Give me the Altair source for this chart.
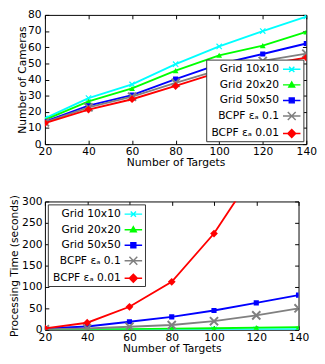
import altair as alt
import pandas as pd

targets = [20, 40, 60, 80, 100, 120, 140]
series_names = ["Grid 10x10", "Grid 20x20", "Grid 50x50", "BCPF εₐ 0.1", "BCPF εₐ 0.01"]
colors = ["#00ffff", "#00ff00", "#0000ff", "#808080", "#ff0000"]

cameras_grid10 = [16, 28.5, 37, 49.5, 60.5, 70, 79]
cameras_grid20 = [15, 26.5, 34.5, 45.5, 55, 61, 69.5]
cameras_grid50 = [14, 23.8, 30.4, 40.3, 49.6, 55.8, 62.3]
cameras_bcpf1 = [13.5, 22.8, 29.4, 38, 46, 51.5, 56]
cameras_bcpf01 = [13, 21.4, 27.8, 36, 44.6, 49, 53.6]

time_grid10 = [0.2, 0.3, 0.5, 0.7, 1.0, 1.2, 1.5]
time_grid20 = [0.5, 1, 1.5, 2.5, 3.5, 5, 6]
time_grid50 = [3, 7.5, 18.7, 30, 45, 63, 81]
time_bcpf1 = [1, 3, 7, 11, 20, 33.6, 50]
time_bcpf01 = [3, 16.4, 53.7, 112, 225, 375, 580]

cam_ticks = [0, 10, 20, 30, 40, 50, 60, 70, 80]
time_ticks = [0, 50, 100, 150, 200, 250, 300]

XPATH = "M-1,-1L1,1M-1,1L1,-1"
marker_shapes = [XPATH, "triangle-up", "square", XPATH, "diamond"]
marker_sizes = [30, 36, 28, 70, 64]
marker_filled = [False, True, True, False, True]
marker_strokes = [1.2, 1, 1, 2, 1]

legend_paths = [
    "M-1,0H1M-0.3,-0.3L0.3,0.3M-0.3,0.3L0.3,-0.3",
    "M-1,0H1M0,-0.33L0.33,0.25L-0.33,0.25Z",
    "M-1,0H1M-0.28,-0.28H0.28V0.28H-0.28Z",
    "M-1,0H1M-0.45,-0.45L0.45,0.45M-0.45,0.45L0.45,-0.45",
    "M-1,0H1M0,-0.45L0.45,0L0,0.45L-0.45,0Z",
]

FONT = "DejaVu Sans"


def make_panel(values_lists, ytitle, ydomain, yticks, width, height, legend_orient,
               ytitle_pad, ylabel_pad):
    df = pd.DataFrame({
        "targets": targets * len(series_names),
        "value": [v for vals in values_lists for v in vals],
        "series": [n for n in series_names for _ in targets],
    })
    xs = alt.Scale(domain=[20, 140], nice=False, zero=False)
    ys = alt.Scale(domain=ydomain, nice=False, zero=False)
    base = alt.Chart(df)

    x_main = alt.Axis(orient="bottom", values=targets, offset=-4, tickSize=4, domain=False,
                      grid=False, labelPadding=2, title="Number of Targets", titlePadding=0,
                      labelFlush=False)
    y_main = alt.Axis(orient="left", values=yticks, offset=-4, tickSize=4, domain=False,
                      grid=False, labelPadding=ylabel_pad, title=ytitle,
                      titlePadding=ytitle_pad, labelFlush=False)
    x_top = alt.Axis(orient="top", values=targets, offset=-4, tickSize=4, domain=False,
                     grid=False, labels=False, title=None)
    y_right = alt.Axis(orient="right", values=yticks, offset=-4, tickSize=4, domain=False,
                       grid=False, labels=False, title=None)

    layers = []
    for i, name in enumerate(series_names):
        sub = base.transform_filter(alt.datum.series == name)
        xa = x_main if i == 0 else None
        ya = y_main if i == 0 else None
        line = sub.mark_line(color=colors[i], strokeWidth=1.9, clip=True).encode(
            x=alt.X("targets:Q", scale=xs, axis=xa),
            y=alt.Y("value:Q", scale=ys, axis=ya),
        )
        pt = sub.mark_point(
            shape=marker_shapes[i], size=marker_sizes[i], filled=marker_filled[i],
            color=colors[i], strokeWidth=marker_strokes[i], opacity=1, clip=True,
        ).encode(
            x=alt.X("targets:Q", scale=xs, axis=None),
            y=alt.Y("value:Q", scale=ys, axis=None),
        )
        layers += [line, pt]

    leg = alt.Legend(
        title=None, orient=legend_orient, offset=3, padding=0,
        strokeColor="#333333", fillColor="white",
        labelAlign="right", labelOffset={"expr": "-23"}, symbolOffset=78,
        symbolSize=324, symbolStrokeWidth=1.5, rowPadding=0,
        labelFont=FONT, labelFontSize=11, labelColor="black",
    )
    legend_layer = base.transform_filter("false").mark_point(
        filled=True, size=324, opacity=1, strokeWidth=1.5
    ).encode(
        x=alt.X("targets:Q", scale=xs, axis=x_top),
        y=alt.Y("value:Q", scale=ys, axis=y_right),
        fill=alt.Fill("series:N", scale=alt.Scale(domain=series_names, range=colors), legend=leg),
        stroke=alt.Stroke("series:N", scale=alt.Scale(domain=series_names, range=colors), legend=leg),
        shape=alt.Shape("series:N", scale=alt.Scale(domain=series_names, range=legend_paths), legend=leg),
    )
    layers.append(legend_layer)

    panel = alt.layer(*layers).resolve_axis(x="independent", y="independent").properties(
        width=width, height=height
    )
    return alt.hconcat(panel).resolve_scale(
        fill="independent", stroke="independent", shape="independent"
    ).resolve_legend(fill="independent", stroke="independent", shape="independent")


top = make_panel(
    [cameras_grid10, cameras_grid20, cameras_grid50, cameras_bcpf1, cameras_bcpf01],
    "Number of Cameras", [0, 80], cam_ticks, 269, 133, "bottom-right", 0, 4,
)
bottom = make_panel(
    [time_grid10, time_grid20, time_grid50, time_bcpf1, time_bcpf01],
    "Processing Time (seconds)", [0, 300], time_ticks, 261, 132, "top-left", 2, 3,
)

chart = alt.vconcat(top, bottom, spacing=26).resolve_scale(
    fill="independent", stroke="independent", shape="independent"
).resolve_legend(
    fill="independent", stroke="independent", shape="independent"
).properties(
    padding={"top": -5, "left": 0, "right": 0, "bottom": 0}
).configure(font=FONT).configure_view(
    stroke="black", strokeWidth=1
).configure_axis(
    labelFont=FONT, labelFontSize=11, labelColor="black",
    titleFont=FONT, titleFontSize=11, titleColor="black", titleFontWeight="normal",
    tickColor="black", tickWidth=1,
)

chart.save("out.html", embed_options={"renderer": "svg", "actions": False})
